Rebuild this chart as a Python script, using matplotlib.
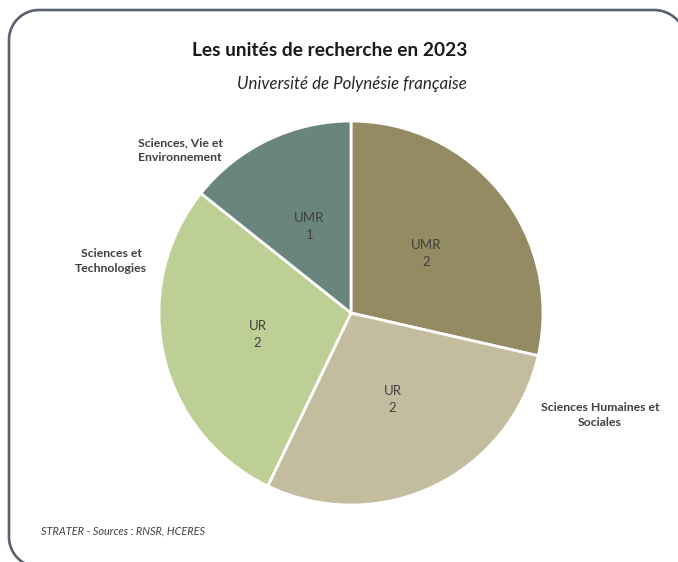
import matplotlib.pyplot as plt
import numpy as np

plt.rcParams["font.family"] = ["Lato", "DejaVu Sans"]

# slices, clockwise from the top
unit_types = ["UMR", "UR", "UR", "UMR"]
unit_counts = [2, 2, 2, 1]
slice_colors = ["#958B62", "#C4BC9F", "#BDCF94", "#6A857E"]

# domain labels (outside the pie)
domains = ["Sciences Humaines et\nSociales", "Sciences et\nTechnologies",
           "Sciences, Vie et\nEnvironnement"]

title = "Les unités de recherche en 2023"
subtitle = "Université de Polynésie française"
source = "STRATER - Sources : RNSR, HCERES"

W, H = 678, 562
fig = plt.figure(figsize=(W / 100, H / 100), dpi=100)

# rounded frame around the chart, drawn in a full-figure pixel axes
bg = fig.add_axes([0, 0, 1, 1])
bg.set_xlim(0, W)
bg.set_ylim(0, H)
bg.axis("off")


def corner(xc, yc, rad, a0, a1):
    a = np.deg2rad(np.linspace(a0, a1, 40))
    return xc + rad * np.cos(a), yc + rad * np.sin(a)


left, top, bottom, right = 9, 552, -5, 686
bl = corner(left + 30, bottom + 30, 30, 270, 180)
tl = corner(left + 30, top - 30, 30, 180, 90)
tr = corner(right - 32, top - 32, 32, 90, 0)
fx = np.concatenate([[left + 30], bl[0], tl[0], tr[0], [right]])
fy = np.concatenate([[bottom], bl[1], tl[1], tr[1], [bottom]])
bg.plot(fx, fy, color="#5A616F", lw=1.9, solid_capstyle="round")

cx, cy, r = 351, 313, 192
ax = fig.add_axes([(cx - r) / W, (H - cy - r) / H, 2 * r / W, 2 * r / H])
wedges, _ = ax.pie(unit_counts, colors=slice_colors, startangle=90, counterclock=False,
                   wedgeprops=dict(edgecolor="white", linewidth=2))
ax.set_xlim(-1, 1)
ax.set_ylim(-1, 1)
ax.set_aspect("equal")
ax.axis("off")

for w, t, n in zip(wedges, unit_types, unit_counts):
    mid = np.deg2rad((w.theta1 + w.theta2) / 2)
    ax.text(0.5 * np.cos(mid), 0.5 * np.sin(mid), f"{t}\n{n}", ha="center", va="center",
            fontsize=9.5, color="#404040", linespacing=1.5)

fig.text(330 / W, 1 - 50 / H, title, ha="center", va="center", fontsize=13.8,
         fontweight="bold", color="#1a1a1a")
fig.text(352 / W, 1 - 84 / H, subtitle, ha="center", va="center", fontsize=12.2,
         style="italic", color="#262626")

label_kw = dict(ha="center", va="center", fontsize=8.8, fontweight="bold",
                color="#404040", linespacing=1.35)
fig.text(600 / W, 1 - 415 / H, domains[0], **label_kw)
fig.text(111 / W, 1 - 261 / H, domains[1], **label_kw)
fig.text(180 / W, 1 - 150 / H, domains[2], **label_kw)

fig.text(41 / W, 1 - 531 / H, source, ha="left", va="center", fontsize=7.8,
         style="italic", color="#404040")

fig.savefig("out.png", dpi=100)
